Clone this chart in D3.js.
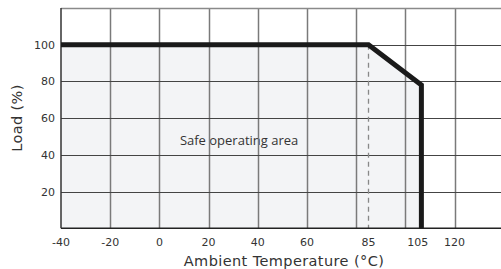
<!DOCTYPE html>
<html><head><meta charset="utf-8">
<script src="https://cdn.jsdelivr.net/npm/d3@7"></script>
<style>body{margin:0;background:#fff}svg{display:block}</style>
</head><body>
<script>
// Data
const curveTemp = [-40, 85, 106.5, 106.5];
const curveLoad = [100, 100, 78, 0];
const xTickValues = [-40, -20, 0, 20, 40, 60, 85, 105, 120];
const xGridValues = [-20, 0, 20, 40, 60, 80, 100, 120];
const yTickValues = [20, 40, 60, 80, 100];
const yGridValues = [20, 40, 60, 80, 100, 120];
const dashedTemp = [85];
const areaLabel = ["Safe operating area"];
const xTitle = "Ambient Temperature (°C)";
const yTitle = "Load (%)";

const W = 501, H = 269;
const svg = d3.select("body").append("svg").attr("width", W).attr("height", H);
const x = d3.scaleLinear().domain([-40, 140]).range([61, 503.8]);
const y = d3.scaleLinear().domain([0, 120]).range([228.3, 8]);

const pts = curveTemp.map((t, i) => [t, curveLoad[i]]);
// fill
svg.append("path")
  .datum(pts)
  .attr("fill", "#f3f4f6")
  .attr("d", d3.area().x(d => x(d[0])).y0(y(0)).y1(d => y(d[1])));

// area label (under grid)
svg.append("g").selectAll("text").data(areaLabel).join("text")
  .attr("x", x(32.4)).attr("y", 145).attr("text-anchor", "middle")
  .attr("font-family", "'Open Sans', sans-serif").attr("font-size", 13).attr("fill", "#333")
  .text(d => d);

// vertical grid
svg.append("g").selectAll("line").data(xGridValues).join("line")
  .attr("x1", d => Math.round(x(d)) + 0.5).attr("x2", d => Math.round(x(d)) + 0.5)
  .attr("y1", y(120)).attr("y2", y(0))
  .attr("stroke", "#7a7a7a").attr("stroke-width", 1.5);
// horizontal grid
svg.append("g").selectAll("line").data(yGridValues).join("line")
  .attr("x1", x(-40)).attr("x2", W)
  .attr("y1", d => Math.round(y(d)) + 0.5).attr("y2", d => Math.round(y(d)) + 0.5)
  .attr("stroke", d => d === 120 ? "#8a8a8a" : "#444").attr("stroke-width", d => d === 120 ? 1.5 : 1);

// dashed
svg.append("g").selectAll("line").data(dashedTemp).join("line")
  .attr("x1", d => x(d)).attr("x2", d => x(d))
  .attr("y1", y(100)).attr("y2", y(0))
  .attr("stroke", "#888").attr("stroke-width", 1.3).attr("stroke-dasharray", "5,4");

// axes frame lines
svg.append("line").attr("x1", x(-40)).attr("x2", W).attr("y1", y(0)).attr("y2", y(0))
  .attr("stroke", "#222").attr("stroke-width", 1.5);
svg.append("line").attr("x1", x(-40)).attr("x2", x(-40)).attr("y1", y(120)).attr("y2", y(0))
  .attr("stroke", "#333").attr("stroke-width", 1.5);

// curve
svg.append("path").datum(pts)
  .attr("fill", "none").attr("stroke", "#1a1a1a").attr("stroke-width", 5)
  .attr("stroke-linejoin", "miter")
  .attr("d", d3.line().x(d => x(d[0])).y(d => y(d[1])));

const font = "'DejaVu Sans', Verdana, sans-serif";
// x tick labels
svg.append("g").selectAll("text").data(xTickValues).join("text")
  .attr("x", d => x(d)).attr("y", 245.5).attr("text-anchor", "middle")
  .attr("font-family", font).attr("font-size", 11).attr("fill", "#333")
  .text(d => d);
// y tick labels
svg.append("g").selectAll("text").data(yTickValues).join("text")
  .attr("x", 55).attr("y", d => y(d) + 4).attr("text-anchor", "end")
  .attr("font-family", font).attr("font-size", 11).attr("fill", "#333")
  .text(d => d);

svg.append("text").attr("x", 284).attr("y", 265.5).attr("text-anchor", "middle")
  .attr("font-family", font).attr("font-size", 14.5).attr("letter-spacing", 0.4).attr("fill", "#333").text(xTitle);
svg.append("text").attr("transform", "translate(21.5,118) rotate(-90)").attr("text-anchor", "middle")
  .attr("font-family", font).attr("font-size", 14.5).attr("letter-spacing", 0.4).attr("fill", "#333").text(yTitle);
</script>
</body></html>
